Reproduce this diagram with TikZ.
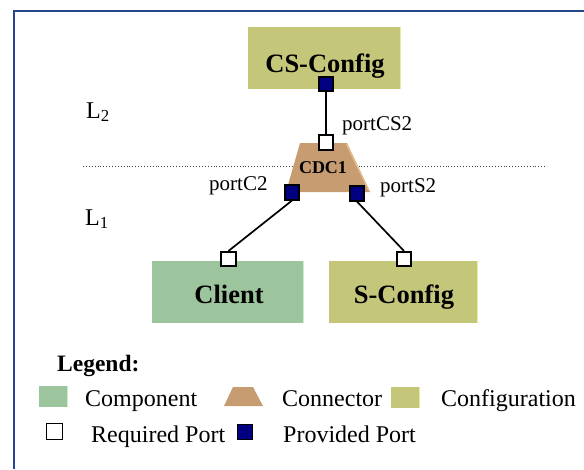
\documentclass[tikz,border=0pt]{standalone}
\usepackage{fontspec}
\setmainfont{Liberation Serif}
\definecolor{cfgcol}{RGB}{196,198,122}
\definecolor{cfglight}{RGB}{232,236,160}
\definecolor{compcol}{RGB}{157,197,157}
\definecolor{complight}{RGB}{200,240,200}
\definecolor{conncol}{RGB}{198,156,112}
\definecolor{connlight}{RGB}{226,186,140}
\definecolor{provcol}{RGB}{0,0,128}
\definecolor{framecol}{RGB}{40,70,140}
\begin{document}
\begin{tikzpicture}[x=1pt,y=-1pt,
  boxsty/.style={rectangle, inner sep=0pt, draw=none},
  reqport/.style={rectangle, draw=black, line width=1.6pt, fill=white, minimum size=14.5pt, inner sep=0pt},
  provport/.style={rectangle, draw=black, line width=1.6pt, fill=provcol, minimum size=14.5pt, inner sep=0pt},
  conn/.style={draw=black, line width=1.7pt},
  bigbold/.style={font=\fontsize{26.5}{30}\selectfont\bfseries, inner sep=0pt, anchor=base},
  lbl/.style={font=\fontsize{21}{24}\selectfont, inner sep=0pt, anchor=base west},
  leg/.style={font=\fontsize{24}{28}\selectfont, inner sep=0pt, anchor=base west}]
\useasboundingbox (0,0) rectangle (584,469);
% frame (top and left)
\coordinate (fbl) at (14,469);
\coordinate (ftl) at (14,11);
\coordinate (ftr) at (584,11);
\draw[framecol, line width=1.8pt] (fbl) -- (ftl) -- (ftr);
% dotted layer line
\coordinate (dl) at (83,166);
\coordinate (dr) at (546,166);
\draw[black!75, line width=0.9pt, dash pattern=on 0.9pt off 2pt] (dl) -- (dr);
% layer labels
\node[leg] (l2) at (86,118) {L\textsubscript{2}};
\node[leg] (l1) at (85,225) {L\textsubscript{1}};
% CS-Config box
\node[boxsty, fill=cfgcol, minimum width=153pt, minimum height=62pt] (cs) at (324.5,58) {};
\draw[cfglight, line width=1.5pt] ([xshift=-0.75pt]cs.north east) -- ([xshift=-0.75pt]cs.south east);
\node[bigbold] (cstext) at (325,72) {CS-Config};
% Client box
\node[boxsty, fill=compcol, minimum width=152pt, minimum height=62pt] (client) at (228,292) {};
\draw[complight, line width=1.5pt] ([xshift=-0.75pt]client.north east) -- ([xshift=-0.75pt]client.south east);
\node[bigbold] (clienttext) at (229,303) {Client};
% S-Config box
\node[boxsty, fill=cfgcol, minimum width=149pt, minimum height=62pt] (sc) at (403.5,292) {};
\draw[cfglight, line width=1.5pt] ([xshift=-0.75pt]sc.north east) -- ([xshift=-0.75pt]sc.south east);
\node[bigbold] (sctext) at (404,303) {S-Config};
% connector CDC1
\fill[conncol] (300,143) -- (347,143) -- (370,192) -- (286,192) -- cycle;
\draw[connlight, line width=1.5pt] (346.5,144) -- (369,191);
\node[font=\fontsize{18}{20}\selectfont\bfseries, inner sep=0pt, anchor=base] (cdc) at (323,173) {CDC1};
% ports
\node[provport] (pcs) at (326,84) {};
\node[reqport] (rcs) at (326,142.5) {};
\node[provport] (pc2) at (292,192.5) {};
\node[provport] (ps2) at (357,193.5) {};
\node[reqport] (rcl) at (228.5,259) {};
\node[reqport] (rsc) at (404,259) {};
% connectors
\draw[conn] (pcs.south) -- (rcs.north);
\draw[conn] (pc2.south) -- (rcl.north);
\draw[conn] (ps2.south) -- (rsc.north);
% port labels
\node[lbl] (lcs2) at (342,130) {portCS2};
\node[lbl] (lc2) at (209,190) {portC2};
\node[lbl] (ls2) at (380,192) {portS2};
% legend
\node[font=\fontsize{23.5}{28}\selectfont\bfseries, inner sep=0pt, anchor=base west] (legt) at (57,371) {Legend:};
\node[boxsty, fill=compcol, minimum width=29pt, minimum height=21pt] (lgcomp) at (53.5,396.5) {};
\draw[complight, line width=1.2pt] ([xshift=-0.6pt]lgcomp.north east) -- ([xshift=-0.6pt]lgcomp.south east);
\node[leg] (tcomp) at (85,406) {Component};
\fill[conncol] (233,387) -- (253,387) -- (263,406) -- (224,406) -- cycle;
\coordinate (lgconn) at (243.5,396.5);
\node[leg] (tconn) at (282,406) {Connector};
\node[boxsty, fill=cfgcol, minimum width=29pt, minimum height=21pt] (lgcfg) at (405.5,397.5) {};
\draw[cfglight, line width=1.2pt] ([xshift=-0.6pt]lgcfg.north east) -- ([xshift=-0.6pt]lgcfg.south east);
\node[leg] (tcfg) at (441,406) {Configuration};
\node[reqport, minimum size=16pt] (lgreq) at (54.5,431.5) {};
\node[leg] (treq) at (91,442) {Required Port};
\node[provport, minimum size=15pt] (lgprov) at (245,432) {};
\node[leg] (tprov) at (283,442) {Provided Port};
\end{tikzpicture}
\end{document}
